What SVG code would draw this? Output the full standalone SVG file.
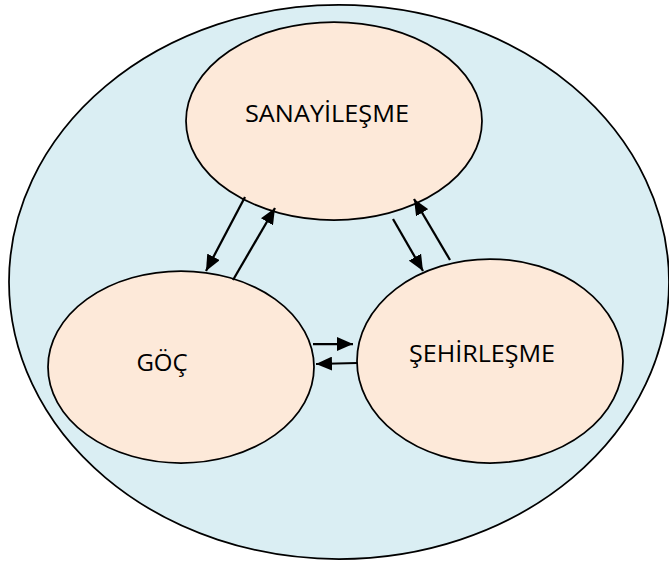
<svg xmlns="http://www.w3.org/2000/svg" width="669" height="568" viewBox="0 0 669 568">
<style>
.outer{fill:#DAEEF3;stroke:#000;stroke-width:1.75}
.node{fill:#FDE9D9;stroke:#000;stroke-width:1.75}
.lbl{font-family:"Open Sans","Liberation Sans",sans-serif;font-size:24px;fill:#000;text-anchor:middle}
.arr{stroke:#000;stroke-width:2.25;fill:none;marker-end:url(#ah)}
</style>
<defs>
<marker id="ah" markerUnits="userSpaceOnUse" markerWidth="16" markerHeight="14" refX="16" refY="7" orient="auto">
<path d="M0,0 L16,7 L0,14 z" fill="#000"/>
</marker>
</defs>
<rect width="669" height="568" fill="#fff"/>
<g id="outer"><ellipse class="outer" cx="339" cy="282" rx="330" ry="277"/></g>
<g id="sanayilesme"><ellipse class="node" cx="334" cy="121" rx="148" ry="99"/><text class="lbl" x="327" y="122" textLength="164" lengthAdjust="spacingAndGlyphs">SANAYİLEŞME</text></g>
<g id="goc"><ellipse class="node" cx="181" cy="367" rx="133" ry="96"/><text class="lbl" x="162" y="371">GÖÇ</text></g>
<g id="sehirlesme"><ellipse class="node" cx="490" cy="361" rx="133" ry="102"/><text class="lbl" x="482" y="362" textLength="146" lengthAdjust="spacingAndGlyphs">ŞEHİRLEŞME</text></g>
<g id="connectors">
<line class="arr" x1="245" y1="197" x2="206" y2="271"/>
<line class="arr" x1="233" y1="280" x2="275" y2="208"/>
<line class="arr" x1="393" y1="219" x2="423" y2="271"/>
<line class="arr" x1="450" y1="260" x2="414" y2="199"/>
<line class="arr" x1="313" y1="344" x2="353" y2="344"/>
<line class="arr" x1="357" y1="363" x2="316" y2="364"/>
</g>
</svg>
